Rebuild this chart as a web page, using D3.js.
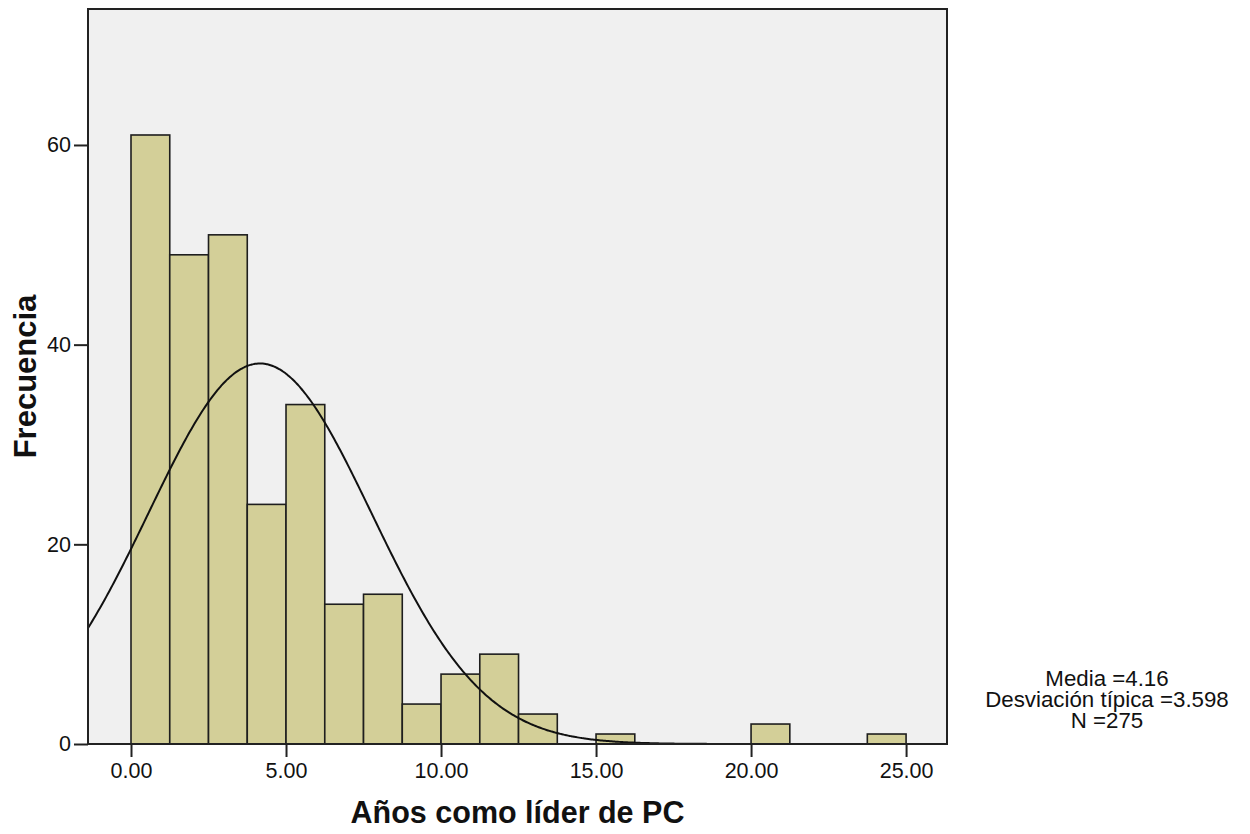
<!DOCTYPE html>
<html>
<head>
<meta charset="utf-8">
<script src="https://cdn.jsdelivr.net/npm/d3@7"></script>
<style>
  body { margin: 0; background: #fff; }
  text { font-family: "Liberation Sans", Arial, sans-serif; fill: #111; }
</style>
</head>
<body>
<svg id="chart"></svg>
<script>
// histogram bins (width 1.25) and counts
var binStart = [0, 1.25, 2.5, 3.75, 5, 6.25, 7.5, 8.75, 10, 11.25, 12.5, 13.75, 15, 16.25, 17.5, 18.75, 20, 21.25, 22.5, 23.75]
var binCount = [61, 49, 51, 24, 34, 14, 15, 4, 7, 9, 3, 0, 1, 0, 0, 0, 2, 0, 0, 1]
var binWidth = 1.25
var xTicks = [0, 5, 10, 15, 20, 25]
var yTicks = [0, 20, 40, 60]
var media = 4.16
var desv = 3.598
var n = 275
var statLines = ["Media =4.16", "Desviación típica =3.598", "N =275"]

var width = 1250, height = 834
var plot = { left: 88, right: 947, top: 9, bottom: 744 }

var svg = d3.select("#chart").attr("width", width).attr("height", height)

var x = d3.scaleLinear().domain([-1.387, 26.32]).range([plot.left, plot.right])
var y = d3.scaleLinear().domain([0, 73.62]).range([plot.bottom, plot.top])

svg.append("rect")
    .attr("x", plot.left).attr("y", plot.top)
    .attr("width", plot.right - plot.left).attr("height", plot.bottom - plot.top)
    .attr("fill", "#f0f0f0")

svg.append("clipPath").attr("id", "clip")
    .append("rect")
    .attr("x", plot.left).attr("y", plot.top)
    .attr("width", plot.right - plot.left).attr("height", plot.bottom - plot.top)

var bins = binStart.map((s, i) => ({ x0: s, x1: s + binWidth, count: binCount[i] }))

svg.append("g")
    .selectAll("rect")
    .data(bins.filter(d => d.count > 0))
    .enter()
    .append("rect")
    .attr("x", d => x(d.x0))
    .attr("y", d => y(d.count))
    .attr("width", d => x(d.x1) - x(d.x0))
    .attr("height", d => y(0) - y(d.count))
    .attr("fill", "#d3cf98")
    .attr("stroke", "#1e1e1e")
    .attr("stroke-width", 1.6)

// fitted normal curve from the stats
var curvePts = d3.range(-1.5, 26.5, 0.05).map(v => {
    var z = (v - media) / desv
    return [v, n * binWidth * Math.exp(-0.5 * z * z) / (desv * Math.sqrt(2 * Math.PI))]
})
var line = d3.line().x(d => x(d[0])).y(d => y(d[1])).curve(d3.curveBasis)

svg.append("path")
    .attr("d", line(curvePts))
    .attr("fill", "none")
    .attr("stroke", "#111")
    .attr("stroke-width", 2)
    .attr("clip-path", "url(#clip)")

// frame
svg.append("rect")
    .attr("x", plot.left).attr("y", plot.top)
    .attr("width", plot.right - plot.left).attr("height", plot.bottom - plot.top)
    .attr("fill", "none")
    .attr("stroke", "#222")
    .attr("stroke-width", 2)

var xAxis = svg.append("g")
    .attr("transform", "translate(0," + plot.bottom + ")")
    .call(d3.axisBottom(x).tickValues(xTicks).tickSize(13).tickSizeOuter(0).tickPadding(6)
        .tickFormat(d3.format(".2f")))
xAxis.select(".domain").remove()
xAxis.selectAll("line").attr("stroke", "#222").attr("stroke-width", 2)
xAxis.selectAll("text").style("font-size", "21.5px").attr("fill", "#111")

var yAxis = svg.append("g")
    .attr("transform", "translate(" + plot.left + ",0)")
    .call(d3.axisLeft(y).tickValues(yTicks).tickSize(14).tickSizeOuter(0).tickPadding(3))
yAxis.select(".domain").remove()
yAxis.selectAll("line").attr("stroke", "#222").attr("stroke-width", 2)
yAxis.selectAll("text").style("font-size", "21.5px").attr("fill", "#111")

svg.append("text")
    .attr("x", (plot.left + plot.right) / 2)
    .attr("y", 823)
    .attr("text-anchor", "middle")
    .style("font-size", "30.5px")
    .style("font-weight", "bold")
    .text("Años como líder de PC")

svg.append("text")
    .attr("transform", "translate(36," + ((plot.top + plot.bottom) / 2) + ") rotate(-90)")
    .attr("text-anchor", "middle")
    .style("font-size", "31px")
    .style("font-weight", "bold")
    .text("Frecuencia")

svg.append("g")
    .selectAll("text")
    .data(statLines)
    .enter()
    .append("text")
    .attr("x", 1107)
    .attr("y", (d, i) => 686 + i * 21)
    .attr("text-anchor", "middle")
    .style("font-size", "22.3px")
    .text(d => d)
</script>
</body>
</html>
